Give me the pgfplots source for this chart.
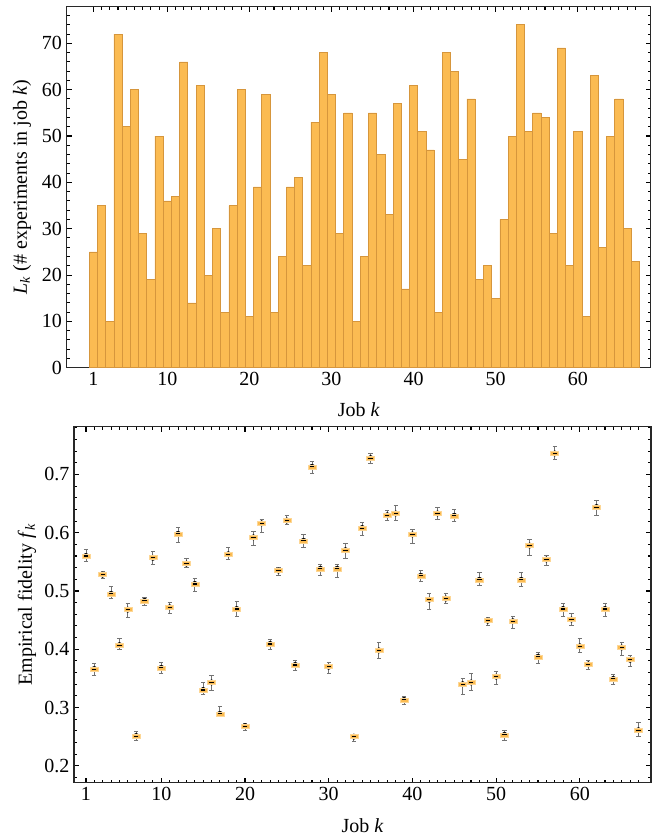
\documentclass[border=0pt]{standalone}
\usepackage{fontspec}
\setmainfont{Liberation Serif}
\usepackage{pgfplots}
\usepackage{pgfplotstable}
\pgfplotsset{compat=1.18}
\definecolor{barfill}{RGB}{251,187,82}
\definecolor{baredge}{RGB}{214,150,60}
\definecolor{boxedge}{RGB}{253,215,150}
\definecolor{whisk}{RGB}{115,115,115}
\definecolor{frame}{RGB}{40,40,40}

\pgfplotstableread{
k L
1 25
2 35
3 10
4 72
5 52
6 60
7 29
8 19
9 50
10 36
11 37
12 66
13 14
14 61
15 20
16 30
17 12
18 35
19 60
20 11
21 39
22 59
23 12
24 24
25 39
26 41
27 22
28 53
29 68
30 59
31 29
32 55
33 10
34 24
35 55
36 46
37 33
38 57
39 17
40 61
41 51
42 47
43 12
44 68
45 64
46 45
47 58
48 19
49 22
50 15
51 32
52 50
53 74
54 51
55 55
56 54
57 29
58 69
59 22
60 51
61 11
62 63
63 26
64 50
65 58
66 30
67 23
}\lengths

\pgfplotstableread{
k f hi lo
1 0.560 0.571 0.550
2 0.366 0.375 0.355
3 0.528 0.534 0.521
4 0.495 0.507 0.487
5 0.407 0.419 0.399
6 0.468 0.478 0.454
7 0.251 0.259 0.243
8 0.483 0.489 0.475
9 0.557 0.567 0.546
10 0.368 0.378 0.358
11 0.472 0.481 0.462
12 0.598 0.609 0.583
13 0.547 0.555 0.540
14 0.512 0.521 0.500
15 0.330 0.343 0.323
16 0.343 0.355 0.330
17 0.289 0.301 0.284
18 0.563 0.574 0.554
19 0.469 0.482 0.457
20 0.268 0.273 0.260
21 0.592 0.602 0.578
22 0.616 0.623 0.600
23 0.409 0.417 0.399
24 0.535 0.541 0.526
25 0.621 0.630 0.614
26 0.373 0.380 0.364
27 0.586 0.597 0.575
28 0.713 0.722 0.702
29 0.538 0.546 0.526
30 0.370 0.378 0.359
31 0.538 0.546 0.524
32 0.570 0.581 0.556
33 0.250 0.254 0.242
34 0.608 0.617 0.595
35 0.728 0.736 0.719
36 0.398 0.411 0.385
37 0.630 0.638 0.621
38 0.633 0.647 0.621
39 0.313 0.319 0.306
40 0.597 0.605 0.581
41 0.526 0.536 0.516
42 0.485 0.495 0.468
43 0.633 0.643 0.623
44 0.487 0.495 0.478
45 0.629 0.640 0.619
46 0.340 0.349 0.323
47 0.343 0.359 0.329
48 0.519 0.531 0.509
49 0.449 0.455 0.440
50 0.353 0.361 0.340
51 0.253 0.261 0.244
52 0.448 0.457 0.435
53 0.519 0.531 0.507
54 0.578 0.588 0.561
55 0.387 0.395 0.376
56 0.554 0.561 0.543
57 0.736 0.748 0.726
58 0.469 0.479 0.457
59 0.451 0.462 0.440
60 0.405 0.418 0.394
61 0.374 0.380 0.365
62 0.644 0.655 0.629
63 0.469 0.479 0.456
64 0.349 0.357 0.339
65 0.403 0.411 0.390
66 0.382 0.390 0.371
67 0.261 0.275 0.251
}\fidelity

\pgfplotsset{
  framestyle/.style={
    scale only axis,
    axis line style={frame, line width=0.8pt},
    tick style={black, line width=0.8pt},
    tick align=inside,
    major tick length=3.8pt,
    minor tick length=2.2pt,
    xtick pos=both, ytick pos=both,
    xticklabel pos=lower, yticklabel pos=left,
    /pgf/number format/assume math mode=true,
    tick label style={font=\fontsize{15}{18}\selectfont},
    label style={font=\fontsize{15}{18}\selectfont},
    xtick={1,10,20,30,40,50,60},
    minor xtick={1,...,67},
  }
}

\begin{document}
\begin{tikzpicture}
\useasboundingbox (0,0) rectangle (494.25pt,628.5pt);
% top: histogram of L_k
\begin{axis}[
  framestyle,
  at={(50.0pt,352.7pt)}, anchor=south west,
  width=438.2pt, height=270.75pt,
  xmin=-2.25, xmax=68.9,
  ymin=0, ymax=77.9,
  ytick={0,10,...,70},
  minor ytick={0,2,...,76},
  xlabel={Job \textit{k}},
  ylabel={\textit{L}\textsubscript{\textit{k}} (\# experiments in job \textit{k})},
  xlabel style={at={(axis description cs:0.5,-0.117)}, anchor=center},
  ylabel style={at={(axis description cs:-0.0765,0.5)}, anchor=center, rotate=0},
]
\addplot[ybar, bar width=1, bar shift=0pt, fill=barfill, draw=baredge, line width=0.5pt]
  table[x=k, y=L] {\lengths};
\end{axis}

% bottom: fidelities
\begin{axis}[
  framestyle,
  at={(55.5pt,41.5pt)}, anchor=south west,
  width=432.75pt, height=267pt,
  xmin=-0.43, xmax=68.5,
  ymin=0.171, ymax=0.782,
  ytick={0.2,0.3,...,0.7},
  minor ytick={0.18,0.20,...,0.78},
  yticklabel style={/pgf/number format/.cd, fixed, fixed zerofill, precision=1},
  xlabel={Job \textit{k}},
  ylabel={Empirical fidelity \textit{f}\textsubscript{\textit{k}}},
  xlabel style={at={(axis description cs:0.5,-0.121)}, anchor=center},
  ylabel style={at={(axis description cs:-0.0815,0.5)}, anchor=center, rotate=0},
]
\addplot[only marks, mark=none,
  error bars/.cd, y dir=both, y explicit,
  error mark=|,
  error bar style={whisk, line width=0.7pt},
  error mark options={whisk, line width=0.7pt, mark size=1.6pt}]
  table[x=k, y=f,
    y error plus expr=\thisrow{hi}-\thisrow{f},
    y error minus expr=\thisrow{f}-\thisrow{lo}] {\fidelity};
\addplot[only marks, mark=square*, mark size=1.5pt,
  mark options={xscale=2, fill=barfill, draw=boxedge, line width=0.4pt}]
  table[x=k, y=f] {\fidelity};
\addplot[only marks, mark=-, mark size=1.6pt,
  mark options={black, line width=0.8pt}]
  table[x=k, y=f] {\fidelity};
\end{axis}
\end{tikzpicture}
\end{document}
